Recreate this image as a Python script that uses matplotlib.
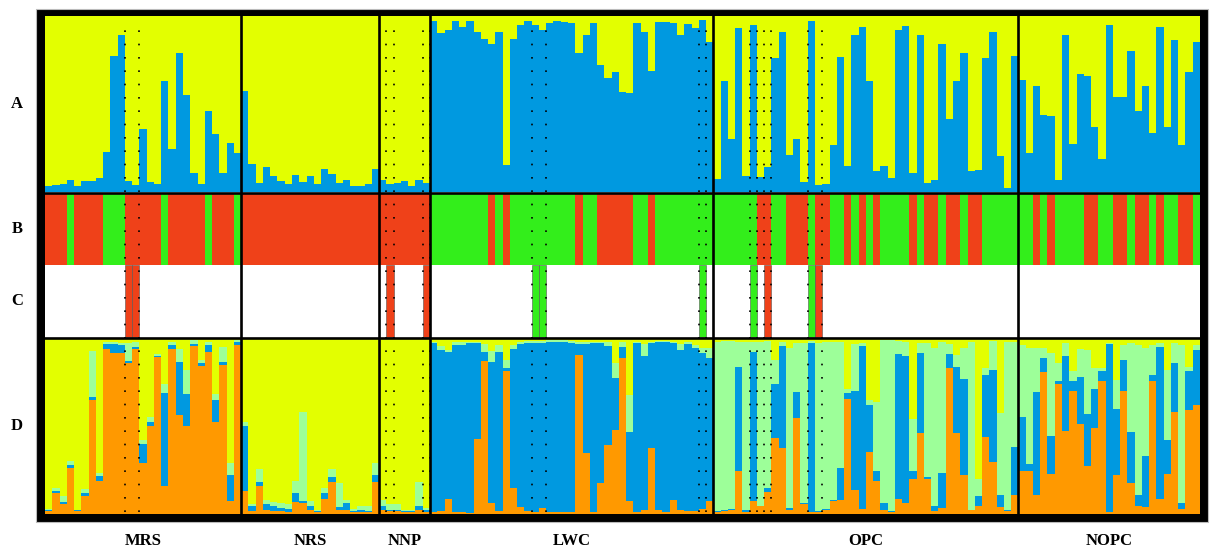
import matplotlib
matplotlib.use("Agg")
import matplotlib.pyplot as plt
from matplotlib.patches import Rectangle
import numpy as np

# populations and number of individuals in each
groups = ['MRS', 'NRS', 'NNP', 'LWC', 'OPC', 'NOPC']
group_sizes = [27, 19, 7, 39, 42, 25]
row_labels = ['A', 'B', 'C', 'D']

# row A: membership in the blue cluster (rest is yellow)
a_blue = {
    'MRS': [0.034, 0.038, 0.047, 0.066, 0.036, 0.065, 0.06, 0.08, 0.23, 0.77, 0.89, 0.06, 0.04, 0.36,
            0.055, 0.047, 0.63, 0.245, 0.79, 0.55, 0.11, 0.044, 0.46, 0.33, 0.11, 0.28, 0.22],
    'NRS': [0.575, 0.16, 0.05, 0.14, 0.09, 0.06, 0.047, 0.095, 0.055, 0.09, 0.044, 0.13, 0.105, 0.05,
            0.07, 0.032, 0.036, 0.047, 0.13],
    'NNP': [0.066, 0.044, 0.05, 0.065, 0.034, 0.066, 0.05],
    'LWC': [0.97, 0.905, 0.92, 0.97, 0.94, 0.97, 0.91, 0.87, 0.84, 0.91, 0.154, 0.87, 0.95, 0.97, 0.95,
            0.92, 0.96, 0.97, 0.965, 0.96, 0.79, 0.89, 0.96, 0.72, 0.65, 0.68, 0.57, 0.56, 0.96, 0.91,
            0.685, 0.965, 0.965, 0.96, 0.89, 0.955, 0.93, 0.98, 0.855],
    'OPC': [0.076, 0.63, 0.30, 0.93, 0.09, 0.95, 0.085, 0.14, 0.76, 0.91, 0.21, 0.30, 0.055, 0.97, 0.04,
            0.045, 0.265, 0.765, 0.15, 0.89, 0.94, 0.63, 0.12, 0.15, 0.08, 0.92, 0.945, 0.106, 0.89,
            0.053, 0.07, 0.84, 0.415, 0.63, 0.79, 0.12, 0.127, 0.76, 0.91, 0.207, 0.023, 0.77],
    'NOPC': [0.635, 0.22, 0.60, 0.44, 0.43, 0.07, 0.89, 0.27, 0.67, 0.66, 0.37, 0.19, 0.95, 0.54, 0.54,
             0.80, 0.46, 0.60, 0.335, 0.935, 0.37, 0.865, 0.265, 0.68, 0.85],
}

# row B: hard assignment, R = red, G = green
b_assign = {
    'MRS': 'RRRGRRRRGGGRRRRRGRRRRRGRRRG',
    'NRS': 'R' * 19,
    'NNP': 'R' * 7,
    'LWC': 'GGGGGGGGRGRGGGGGGGGGRGGRRRRRGGRGGGGGGGG',
    'OPC': 'GGGGGGRRGGRRRGRRGGRGRGRGGGGRGRRGRRGRRGGGGG',
    'NOPC': 'GGRGRGGGGRRGGRRGRRGRGGRRG',
}

# row C: individuals shown (1-based inside each population)
c_marked = {'MRS': [12, 13], 'NNP': [2, 7], 'LWC': [15, 16, 38], 'OPC': [6, 8, 14, 15]}

# row D: cumulative membership, orange / +blue / +light green (rest yellow)
d_orange = {
    'MRS': [0.015, 0.12, 0.054, 0.26, 0.015, 0.10, 0.646, 0.187, 0.94, 0.914, 0.914, 0.857, 0.94, 0.29,
            0.50, 0.89, 0.16, 0.94, 0.564, 0.50, 0.952, 0.843, 0.923, 0.52, 0.847, 0.073, 0.96],
    'NRS': [0.13, 0.015, 0.16, 0.025, 0.015, 0.015, 0.011, 0.07, 0.063, 0.025, 0.01, 0.086, 0.18, 0.025,
            0.025, 0.01, 0.013, 0.01, 0.18],
    'NNP': [0.025, 0.015, 0.015, 0.01, 0.01, 0.025, 0.01],
    'LWC': [0.01, 0.015, 0.088, 0.011, 0.011, 0.006, 0.426, 0.872, 0.063, 0.015, 0.81, 0.15, 0.04, 0.015,
            0.01, 0.034, 0.011, 0.011, 0.011, 0.011, 0.904, 0.346, 0.01, 0.174, 0.39, 0.48, 0.885, 0.073,
            0.011, 0.025, 0.375, 0.025, 0.01, 0.078, 0.025, 0.015, 0.015, 0.03, 0.073],
    'OPC': [0.01, 0.015, 0.025, 0.245, 0.01, 0.073, 0.044, 0.124, 0.432, 0.375, 0.025, 0.545, 0.054, 0.01,
            0.01, 0.025, 0.073, 0.078, 0.656, 0.134, 0.029, 0.35, 0.187, 0.025, 0.01, 0.086, 0.063, 0.197,
            0.46, 0.20, 0.015, 0.034, 0.828, 0.46, 0.22, 0.02, 0.048, 0.44, 0.296, 0.04, 0.015, 0.11],
    'NOPC': [0.245, 0.245, 0.107, 0.805, 0.23, 0.738, 0.47, 0.70, 0.512, 0.273, 0.488, 0.757, 0.01, 0.22,
             0.70, 0.178, 0.044, 0.04, 0.757, 0.086, 0.23, 0.58, 0.029, 0.593, 0.62],
}
d_blue = {
    'MRS': [0.025, 0.13, 0.07, 0.28, 0.02, 0.12, 0.665, 0.216, 0.966, 0.966, 0.958, 0.87, 0.95, 0.40,
            0.52, 0.90, 0.69, 0.958, 0.866, 0.68, 0.966, 0.86, 0.96, 0.646, 0.866, 0.22, 0.977],
    'NRS': [0.50, 0.044, 0.18, 0.054, 0.048, 0.034, 0.03, 0.12, 0.076, 0.048, 0.015, 0.117, 0.21, 0.04,
            0.06, 0.015, 0.023, 0.015, 0.22],
    'NNP': [0.044, 0.025, 0.025, 0.015, 0.015, 0.048, 0.02],
    'LWC': [0.97, 0.933, 0.923, 0.96, 0.96, 0.97, 0.97, 0.92, 0.866, 0.923, 0.83, 0.94, 0.966, 0.971,
            0.971, 0.971, 0.98, 0.977, 0.977, 0.971, 0.966, 0.966, 0.971, 0.971, 0.952, 0.77, 0.948,
            0.465, 0.971, 0.90, 0.971, 0.977, 0.977, 0.971, 0.933, 0.966, 0.943, 0.914, 0.885],
    'OPC': [0.015, 0.025, 0.029, 0.837, 0.025, 0.923, 0.048, 0.15, 0.736, 0.952, 0.034, 0.694, 0.063,
            0.971, 0.015, 0.03, 0.078, 0.264, 0.69, 0.70, 0.952, 0.618, 0.245, 0.063, 0.015, 0.908, 0.895,
            0.245, 0.914, 0.212, 0.044, 0.235, 0.908, 0.837, 0.767, 0.025, 0.10, 0.79, 0.818, 0.107,
            0.021, 0.38],
    'NOPC': [0.55, 0.283, 0.694, 0.885, 0.445, 0.757, 0.90, 0.757, 0.78, 0.57, 0.713, 0.81, 0.966, 0.595,
             0.876, 0.465, 0.107, 0.327, 0.79, 0.948, 0.423, 0.857, 0.063, 0.81, 0.933],
}
d_lgreen = {
    'MRS': [0.03, 0.15, 0.10, 0.30, 0.023, 0.14, 0.927, 0.235, 0.98, 0.98, 0.97, 0.97, 0.98, 0.42, 0.55,
            0.91, 0.74, 0.98, 0.94, 0.82, 0.987, 0.874, 0.98, 0.68, 0.95, 0.29, 0.987],
    'NRS': [0.52, 0.054, 0.254, 0.078, 0.067, 0.06, 0.054, 0.19, 0.58, 0.073, 0.025, 0.15, 0.254, 0.174,
            0.082, 0.03, 0.048, 0.044, 0.29],
    'NNP': [0.078, 0.054, 0.054, 0.02, 0.02, 0.18, 0.034],
    'LWC': [0.98, 0.952, 0.933, 0.98, 0.977, 0.98, 0.98, 0.965, 0.924, 0.96, 0.876, 0.96, 0.98, 0.985,
            0.985, 0.985, 0.989, 0.989, 0.989, 0.985, 0.98, 0.977, 0.98, 0.98, 0.977, 0.857, 0.98, 0.675,
            0.98, 0.966, 0.98, 0.985, 0.985, 0.98, 0.966, 0.98, 0.96, 0.943, 0.943],
    'OPC': [0.98, 0.985, 0.985, 0.98, 0.98, 0.98, 0.98, 0.985, 0.876, 0.98, 0.943, 0.971, 0.971, 0.985,
            0.971, 0.977, 0.977, 0.977, 0.713, 0.966, 0.971, 0.646, 0.637, 0.99, 0.99, 0.985, 0.98, 0.537,
            0.971, 0.971, 0.946, 0.98, 0.966, 0.904, 0.946, 0.977, 0.197, 0.83, 0.985, 0.574, 0.98, 0.977],
    'NOPC': [0.96, 0.946, 0.943, 0.943, 0.914, 0.857, 0.971, 0.81, 0.94, 0.933, 0.828, 0.828, 0.971, 0.76,
             0.962, 0.971, 0.96, 0.943, 0.96, 0.971, 0.818, 0.971, 0.96, 0.837, 0.96],
}

YELLOW = '#E3FF00'
BLUE = '#0099E0'
RED = '#EF4119'
GREEN = '#33EE1B'
ORANGE = '#FF9900'
LGREEN = '#9DFF99'

W, H = 1214, 549
fig = plt.figure(figsize=(W / 100, H / 100), dpi=100)

# thick black frame behind the panel
fig.patches.append(Rectangle((36 / W, 27 / H), 1172 / W, 513 / H, transform=fig.transFigure,
                             facecolor='black', edgecolor='#bbbbbb', lw=0.8, zorder=0))
ax = fig.add_axes([45 / W, 35 / H, 1155 / W, 498 / H], zorder=1)
ax.set_xlim(0, sum(group_sizes))
ax.set_ylim(0, 498)
ax.set_axis_off()
ax.axhspan(0, 498, color='white', lw=0, zorder=0)

# vertical extents (in pixels from the bottom) of each row
rows = {'A': (322, 498), 'B': (249, 321), 'C': (177, 249), 'D': (0, 176)}

starts = np.concatenate([[0], np.cumsum(group_sizes)[:-1]])
for g, s in zip(groups, starts):
    x = s + np.arange(len(a_blue[g]))
    # row A
    y0, y1 = rows['A']
    h = y1 - y0
    ab = np.array(a_blue[g])
    ax.bar(x, ab * h, bottom=y0, width=1, align='edge', color=BLUE, lw=0)
    ax.bar(x, (1 - ab) * h, bottom=y0 + ab * h, width=1, align='edge', color=YELLOW, lw=0)
    # row B
    y0, y1 = rows['B']
    cols = [RED if c == 'R' else GREEN for c in b_assign[g]]
    ax.bar(x, y1 - y0, bottom=y0, width=1, align='edge', color=cols, lw=0)
    # row C
    y0, y1 = rows['C']
    for k in c_marked.get(g, []):
        ax.bar(s + k - 1, y1 - y0, bottom=y0, width=1, align='edge', color=cols[k - 1],
               edgecolor='#555555', lw=0.4)
    # row D
    y0, y1 = rows['D']
    h = y1 - y0
    o = np.array(d_orange[g])
    b = np.array(d_blue[g])
    lg = np.array(d_lgreen[g])
    ax.bar(x, o * h, bottom=y0, width=1, align='edge', color=ORANGE, lw=0)
    ax.bar(x, (b - o) * h, bottom=y0 + o * h, width=1, align='edge', color=BLUE, lw=0)
    ax.bar(x, (lg - b) * h, bottom=y0 + b * h, width=1, align='edge', color=LGREEN, lw=0)
    ax.bar(x, (1 - lg) * h, bottom=y0 + lg * h, width=1, align='edge', color=YELLOW, lw=0)

# dotted guides around the individuals shown in row C
for g, s in zip(groups, starts):
    marked = c_marked.get(g, [])
    i = 0
    while i < len(marked):
        j = i
        while j + 1 < len(marked) and marked[j + 1] == marked[j] + 1:
            j += 1
        for edge in (s + marked[i] - 1, s + marked[j]):
            ax.plot([edge, edge], [2, 488], color='black', lw=1.2, linestyle=(0, (1, 7)), zorder=5)
        i = j + 1

# population and row separators
for s in starts[1:]:
    ax.axvline(s, color='black', lw=1.9, zorder=6)
ax.axhline(176, color='black', lw=1.9, zorder=6)
ax.axhline(321.5, color='black', lw=1.9, zorder=6)

font = dict(family='Liberation Serif', fontweight='bold', fontsize=12)
for lab in row_labels:
    y0, y1 = rows[lab]
    fig.text(17 / W, (35 + (y0 + y1) / 2) / H, lab, ha='center', va='center', **font)
for g, s, n in zip(groups, starts, group_sizes):
    xc = 45 + (s + n / 2) * 1155 / sum(group_sizes)
    fig.text(xc / W, (H - 541) / H, g, ha='center', va='center', **font)

fig.savefig('out.png', dpi=100)
